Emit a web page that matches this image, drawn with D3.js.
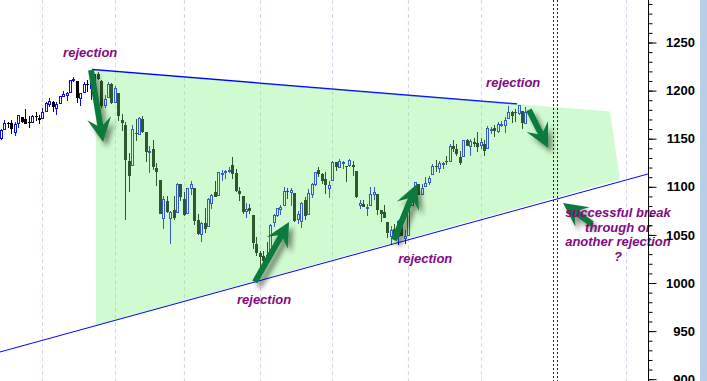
<!DOCTYPE html>
<html>
<head>
<meta charset="utf-8">
<script src="https://cdn.jsdelivr.net/npm/d3@7"></script>
<style>
  body { margin: 0; background: #fff; }
  svg { display: block; }
</style>
</head>
<body>
<svg id="chart"></svg>
<script>
// daily bars, Mar 16 .. Oct 20 (index 0 = first bar)
const opens = [
  1150.8,1159.9,1166.1,1166.7,1157.3,1166.0,1172.7,1170.0,1167.6,1167.7,1173.8,1171.8,
  1171.2,1178.7,1186.0,1188.2,1181.8,1187.1,1194.9,1195.9,1198.7,1210.8,1210.2,1192.1,1199.0,1207.2,1202.5,1207.9,1217.1,1209.9,1184.6,1193.3,1206.8,
  1188.6,1197.5,1169.2,1164.4,1127.0,1122.3,1156.4,1155.4,1170.0,1157.2,1136.5,1138.8,1119.6,1107.3,1067.3,1084.8,1067.4,1075.5,1074.3,1102.6,
  1087.3,1073.0,1098.8,1098.4,1065.8,1050.8,1062.8,1058.8,1082.7,1095.0,1091.2,1114.0,1115.0,1116.2,1122.8,1113.9,1095.6,1090.9,1075.1,1077.5,1071.1,1040.6,
  1031.1,1027.7,1029.0,1028.5,1062.9,1070.5,1077.2,1080.7,1095.6,1094.5,1093.9,1066.8,1064.5,1086.7,1072.1,1092.2,1102.9,1117.4,1112.8,1108.1,1098.4,
  1107.5,1125.3,1121.1,1124.9,1122.1,1122.8,1122.9,1116.9,1081.5,1082.2,1077.5,1081.2,1092.1,1092.4,1075.6,1073.4,1063.2,1049.0,1056.3,1049.3,1063.4,1046.9,
  1049.7,1080.7,1093.6,1102.6,1092.4,1101.2,1104.6,1113.4,1121.2,1119.4,1123.9,1126.4,1126.6,1142.8,1139.5,1131.1,1131.7,1148.6,1142.3,1146.8,1146.0,
  1143.5,1145.0,1140.7,1159.8,1161.6,1158.4,1165.0,1164.3,1171.3,1177.8,1177.5,1176.8,1178.6,1166.7
];
const highs = [
  1160.3,1169.8,1167.8,1169.2,1167.8,1174.7,1173.0,1180.7,1173.9,1174.9,1177.8,1174.6,
  1181.4,1187.7,1191.8,1189.6,1188.6,1194.7,1199.2,1199.0,1210.7,1213.9,1210.2,1197.9,1208.6,1211.0,1210.3,1217.3,1219.8,1211.4,1195.1,1209.4,1208.0,
  1205.1,1197.5,1175.9,1167.6,1135.1,1163.9,1170.5,1172.9,1173.6,1157.2,1141.9,1148.7,1124.3,1107.3,1090.2,1090.0,1074.8,1090.8,1103.5,1102.6,
  1094.8,1098.6,1105.7,1098.4,1071.4,1063.2,1077.7,1087.9,1092.0,1105.9,1115.6,1117.7,1117.7,1121.0,1131.2,1118.5,1099.6,1090.9,1083.6,1082.6,1071.1,1048.1,
  1033.6,1033.0,1042.5,1060.9,1071.3,1078.2,1080.8,1099.5,1099.1,1098.7,1093.9,1074.7,1083.9,1089.0,1097.5,1103.7,1115.0,1121.0,1114.7,1115.9,1106.4,
  1127.3,1125.4,1128.8,1126.6,1122.1,1129.2,1127.2,1116.9,1086.7,1086.2,1082.6,1100.1,1099.8,1092.4,1075.6,1081.6,1063.2,1059.4,1061.5,1065.2,1064.4,1055.1,
  1081.3,1090.1,1105.1,1102.6,1103.3,1110.3,1110.9,1123.9,1127.4,1126.5,1125.4,1131.5,1144.9,1148.6,1144.4,1136.8,1148.9,1149.9,1150.0,1150.6,1157.2,
  1150.3,1148.2,1162.8,1162.3,1163.9,1167.7,1168.7,1172.6,1184.4,1178.9,1181.2,1185.5,1178.6,1182.9
];
const lows = [
  1148.8,1159.9,1161.2,1155.3,1152.9,1161.6,1166.0,1165.1,1161.5,1167.7,1168.0,1165.8,
  1170.7,1178.7,1182.8,1177.3,1175.1,1187.1,1194.7,1188.8,1198.7,1208.5,1186.8,1183.7,1199.0,1198.9,1190.2,1205.1,1211.1,1181.6,1181.8,1193.3,1186.3,
  1188.6,1168.1,1158.2,1065.8,1094.2,1122.3,1147.7,1155.4,1156.1,1126.1,1114.0,1117.2,1100.7,1071.6,1055.9,1072.7,1040.8,1065.6,1074.3,1084.8,
  1069.9,1072.9,1091.8,1060.5,1049.9,1042.2,1052.3,1058.8,1077.1,1089.0,1091.2,1105.9,1108.0,1113.9,1108.2,1094.2,1085.3,1071.6,1067.9,1071.5,1035.2,1028.3,
  1010.9,1015.9,1018.4,1028.5,1058.2,1068.1,1070.4,1080.7,1087.7,1080.5,1063.3,1061.1,1056.9,1065.3,1072.1,1087.9,1101.3,1109.8,1103.1,1092.8,1088.0,
  1107.5,1116.8,1119.5,1118.1,1105.0,1120.9,1111.0,1088.6,1076.7,1079.0,1069.2,1081.2,1085.8,1070.7,1063.9,1067.1,1046.7,1039.8,1045.4,1039.7,1048.8,1040.9,
  1049.7,1080.4,1093.6,1091.2,1092.4,1101.2,1101.7,1113.4,1115.6,1114.6,1118.9,1122.4,1126.6,1136.2,1131.6,1122.8,1131.7,1142.0,1132.1,1141.1,1136.1,
  1139.4,1131.9,1140.7,1154.9,1151.4,1155.6,1162.0,1155.7,1171.3,1166.7,1167.1,1174.6,1159.7,1166.7
];
const closes = [
  1159.5,1166.2,1165.8,1159.9,1165.8,1174.2,1167.7,1165.7,1166.6,1173.2,1173.3,1169.4,
  1178.1,1187.4,1189.4,1182.5,1186.4,1194.4,1196.5,1197.3,1210.7,1211.7,1192.1,1197.5,1207.2,1205.9,1208.7,1217.3,1212.1,1183.7,1191.4,1206.8,1186.7,
  1202.3,1173.6,1165.9,1128.2,1110.9,1159.7,1155.8,1171.7,1157.4,1135.7,1136.9,1120.8,1115.1,1071.6,1087.7,1073.7,1074.0,1067.9,1103.1,1089.4,
  1070.7,1098.4,1102.8,1064.9,1050.5,1062.0,1055.7,1086.8,1091.6,1089.6,1115.2,1114.6,1116.0,1117.5,1113.2,1095.3,1092.0,1073.7,1076.8,1074.6,1041.2,1030.7,
  1027.4,1022.6,1028.1,1060.3,1070.3,1078.0,1078.8,1095.3,1095.2,1096.5,1064.9,1071.3,1083.5,1069.6,1093.7,1102.7,1115.0,1113.8,1106.1,1101.5,1101.6,
  1125.9,1120.5,1127.2,1125.8,1121.6,1127.8,1121.1,1089.5,1083.6,1079.3,1079.4,1092.5,1094.2,1075.6,1071.7,1067.4,1051.9,1055.3,1047.2,1064.6,1048.9,1049.3,
  1080.3,1090.1,1104.5,1091.8,1098.9,1104.2,1109.6,1121.9,1121.1,1125.1,1124.7,1125.6,1142.7,1139.8,1134.3,1124.8,1148.7,1142.2,1147.7,1144.7,1141.2,
  1146.2,1137.0,1160.8,1160.0,1158.1,1165.2,1165.3,1169.8,1178.1,1173.8,1176.2,1184.7,1165.9,1178.2
];

// month-start bar indices (dashed grid) and the double dotted marker
const monthStarts = [12, 33, 53, 75, 96, 118, 139, 181];
const markerDays = [160, 161.2];

// y axis ticks
const majorTicks = [900, 950, 1000, 1050, 1100, 1150, 1200, 1250];
const minorTicks = d3.range(900, 1300, 10);

// trendlines and shaded triangle: [barIndex, price]
const upperLine = [[26.4, 1221.9], [149.6, 1186.1]];
const lowerLine = [[-0.3, 928.3], [187.5, 1113.3]];
const zone = [[27.5, 1221.1], [176.5, 1178.3], [179.4, 1107.6], [27.5, 955.7]];

// arrows: [from, to]
const arrows = [
  [[26.1, 1221.4], [29.6, 1146.6]],
  [[73.6, 1001.0], [83.5, 1063.4]],
  [[113.9, 1044.7], [120.6, 1102.9]],
  [[153.0, 1180.0], [158.6, 1140.4]],
  [[171.3, 1061.3], [162.9, 1083.2]]
];

// notes: [barIndex, price, text]
const notes = [
  [18.0, 1234.9, 'rejection'],
  [140.6, 1203.7, 'rejection'],
  [115.1, 1020.8, 'rejection'],
  [68.4, 978.2, 'rejection']
];
const outlookLines = ['successful break', 'through or', 'another rejection', '?'];
const outlookAt = [178.8, 1068.6];

const W = 707, H = 381, axisX = 648.5;

const svg = d3.select('#chart').attr('width', W).attr('height', H);

const defs = svg.append('defs');
const filt = defs.append('filter').attr('id', 'shadow')
  .attr('x', '-50%').attr('y', '-50%').attr('width', '200%').attr('height', '200%');
filt.append('feDropShadow')
  .attr('dx', 4).attr('dy', 5).attr('stdDeviation', 2.5)
  .attr('flood-color', '#000').attr('flood-opacity', 0.45);
defs.append('clipPath').attr('id', 'plot')
  .append('rect').attr('width', axisX).attr('height', H);

const x = d3.scaleLinear().domain([0, 181]).range([1, 625.5]);
const y = d3.scaleLinear().domain([900, 1250]).range([379.2, 42.5]);

const bars = closes.map((c, i) => ({ i: i, o: opens[i], h: highs[i], l: lows[i], c: c }));

const plot = svg.append('g').attr('clip-path', 'url(#plot)');

// month grid
plot.selectAll('.grid').data(monthStarts).join('line')
  .attr('x1', d => Math.round(x(d)) + 0.5).attr('x2', d => Math.round(x(d)) + 0.5)
  .attr('y1', 0).attr('y2', H)
  .attr('stroke', '#d6d6ec').attr('stroke-dasharray', '4,3');

const line = d3.line().x(d => x(d[0])).y(d => y(d[1]));

// upper trendline sits under the shading
plot.append('path').attr('d', line(upperLine))
  .attr('stroke', '#0000ff').attr('stroke-width', 1.5).attr('fill', 'none');

// candles
const candle = plot.selectAll('.bar').data(bars).join('g');
const px = d => Math.round(x(d.i));
candle.append('line')
  .attr('x1', d => px(d) + 0.5).attr('x2', d => px(d) + 0.5)
  .attr('y1', d => Math.round(y(d.h))).attr('y2', d => Math.round(y(d.l)))
  .attr('stroke', d => d.c >= d.o ? '#0a0aee' : '#000');
candle.append('rect')
  .attr('x', d => d.c >= d.o ? px(d) - 0.5 : px(d) - 1)
  .attr('width', d => d.c >= d.o ? 2 : 3)
  .attr('y', d => Math.round(y(Math.max(d.o, d.c))) + (d.c >= d.o ? 0.5 : 0))
  .attr('height', d => Math.max(1, Math.round(y(Math.min(d.o, d.c))) - Math.round(y(Math.max(d.o, d.c)))))
  .attr('fill', d => d.c >= d.o ? '#fff' : '#000')
  .attr('stroke', d => d.c >= d.o ? '#0a0aee' : 'none');

// translucent triangle
plot.append('path')
  .attr('d', line(zone) + 'Z')
  .attr('fill', 'rgb(125,240,125)').attr('fill-opacity', 0.36);

// lower trendline
plot.append('path').attr('d', line(lowerLine))
  .attr('stroke', '#0000ff').attr('stroke-width', 1).attr('fill', 'none');

// dotted markers
plot.selectAll('.mark').data(markerDays).join('line')
  .attr('x1', d => Math.round(x(d)) + 0.5).attr('x2', d => Math.round(x(d)) + 0.5)
  .attr('y1', 0).attr('y2', H)
  .attr('stroke', '#14146e').attr('stroke-dasharray', '2,2');

// arrows
function arrowPoints(a, b) {
  const x1 = x(a[0]), y1 = y(a[1]), x2 = x(b[0]), y2 = y(b[1]);
  const L = Math.hypot(x2 - x1, y2 - y1), ux = (x2 - x1) / L, uy = (y2 - y1) / L;
  const sw = 3, hw = 12, hl = 24, neck = 17;
  const pt = (d, o) => [x1 + ux * d - uy * o, y1 + uy * d + ux * o];
  return [pt(0, sw), pt(L - neck, sw), pt(L - hl, hw), pt(L, 0),
          pt(L - hl, -hw), pt(L - neck, -sw), pt(0, -sw)];
}
svg.append('g').selectAll('polygon').data(arrows).join('polygon')
  .attr('points', d => arrowPoints(d[0], d[1]).map(p => p.join(',')).join(' '))
  .attr('fill', '#0b7a3d')
  .attr('filter', 'url(#shadow)');

// notes
const noteStyle = s => s
  .attr('font-family', 'Liberation Sans, Arial, sans-serif')
  .attr('font-size', 13).attr('font-weight', 'bold').attr('font-style', 'italic')
  .attr('fill', '#820a82');

svg.append('g').selectAll('text').data(notes).join('text')
  .attr('x', d => x(d[0])).attr('y', d => y(d[1]))
  .text(d => d[2])
  .call(noteStyle);

svg.append('g').selectAll('text').data(outlookLines).join('text')
  .attr('x', x(outlookAt[0]))
  .attr('y', (d, i) => y(outlookAt[1]) + i * 14.5)
  .attr('text-anchor', 'middle')
  .text(d => d)
  .call(noteStyle);

// price axis
const axisG = svg.append('g').attr('transform', `translate(${axisX},0)`);
axisG.append('g')
  .call(d3.axisRight(y).tickValues(minorTicks).tickSize(4).tickFormat(''))
  .call(g => g.select('.domain').remove());
axisG.append('g')
  .call(d3.axisRight(y).tickValues(majorTicks).tickSize(8).tickFormat(d3.format('d')))
  .call(g => g.select('.domain').remove())
  .call(g => g.selectAll('text')
    .attr('x', 46.5).attr('text-anchor', 'end')
    .attr('font-family', 'Liberation Sans, Arial, sans-serif')
    .attr('font-size', 13).attr('font-weight', 'bold').attr('fill', '#000'));
axisG.selectAll('.tick line').attr('stroke', '#000');
axisG.append('line').attr('x1', 0).attr('x2', 0).attr('y1', 0).attr('y2', H)
  .attr('stroke', '#000');

svg.append('rect').attr('x', 700).attr('y', 0).attr('width', 7).attr('height', H)
  .attr('fill', '#b8cde6');
</script>
</body>
</html>
